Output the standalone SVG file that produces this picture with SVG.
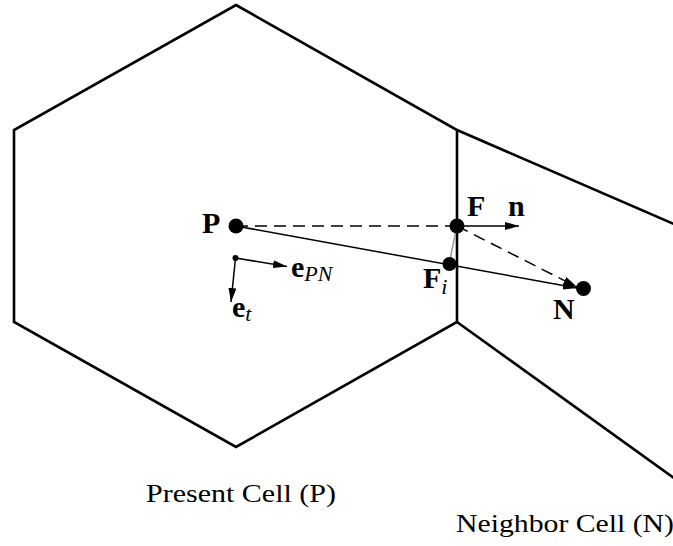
<svg xmlns="http://www.w3.org/2000/svg" width="673" height="546" viewBox="0 0 673 546">
<style>
.cell{fill:none;stroke:#000;stroke-width:2.6;stroke-linejoin:miter}
.dash{fill:none;stroke:#000;stroke-width:1.5;stroke-dasharray:12,7}
.solid{fill:none;stroke:#000;stroke-width:1.5}
.gray{fill:none;stroke:#999;stroke-width:1.5}
.lbl{font-family:"Liberation Serif","DejaVu Serif",serif;font-weight:bold;font-size:30px;fill:#000}
.sub{font-family:"Liberation Serif","DejaVu Serif",serif;font-style:italic;font-weight:normal;font-size:22px;fill:#000}
.cap{font-family:"Liberation Serif","DejaVu Serif",serif;font-size:26px;fill:#000}
</style>
<defs>
<marker id="ah" viewBox="0 0 14 8" refX="14" refY="4" markerWidth="14" markerHeight="8" markerUnits="userSpaceOnUse" orient="auto">
<path d="M0,0 L14,4 L0,8 Z" fill="#000"/>
</marker>
</defs>
<g id="cells">
<polygon id="present-cell" class="cell" points="236,5 457,130 457,322 236,447 14,322 14,130"/>
<polyline id="neighbor-top" class="cell" points="457,130 674,224"/>
<polyline id="neighbor-bottom" class="cell" points="457,322 674,478"/>
</g>
<g id="connectors">
<line class="dash" x1="236" y1="226" x2="457" y2="226"/>
<line class="solid" x1="236" y1="226" x2="577" y2="288" marker-end="url(#ah)"/>
<line class="dash" x1="457" y1="226" x2="577" y2="287" marker-end="url(#ah)"/>
<line class="solid" x1="457" y1="226" x2="519" y2="226" marker-end="url(#ah)"/>
<line class="gray" x1="457" y1="226" x2="449" y2="264"/>
<line class="solid" x1="235.5" y1="258" x2="287" y2="266.5" marker-end="url(#ah)"/>
<line class="solid" x1="235.5" y1="258" x2="231" y2="302" marker-end="url(#ah)"/>
</g>
<g id="node-P">
<circle cx="236" cy="226" r="7.5"/>
<text class="lbl" x="202" y="233">P</text>
</g>
<g id="node-F">
<circle cx="457" cy="226" r="7.5"/>
<text class="lbl" x="467" y="216">F</text>
</g>
<g id="node-n">
<text class="lbl" x="508" y="216">n</text>
</g>
<g id="node-Fi">
<circle cx="449.5" cy="264" r="7"/>
<text class="lbl" x="423" y="288">F<tspan class="sub" dy="6">i</tspan></text>
</g>
<g id="node-N">
<circle cx="583.5" cy="288.5" r="7.5"/>
<text class="lbl" x="553" y="319">N</text>
</g>
<g id="node-origin">
<circle cx="235.5" cy="258" r="3"/>
</g>
<g id="label-ePN">
<text class="lbl" x="291" y="277">e<tspan class="sub" dy="4">PN</tspan></text>
</g>
<g id="label-et">
<text class="lbl" x="232" y="317">e<tspan class="sub" dy="4">t</tspan></text>
</g>
<g id="captions">
<text class="cap" x="146" y="502" textLength="190" lengthAdjust="spacingAndGlyphs">Present Cell (P)</text>
<text class="cap" x="456" y="532" textLength="218" lengthAdjust="spacingAndGlyphs">Neighbor Cell (N)</text>
</g>
</svg>
